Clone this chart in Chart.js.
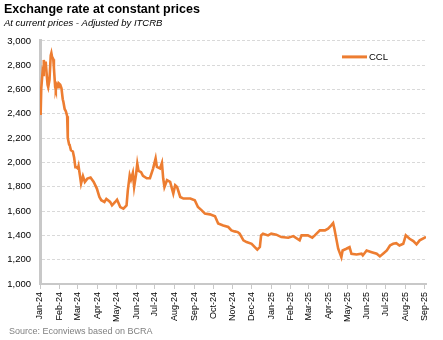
<!DOCTYPE html>
<html>
<head>
<meta charset="utf-8">
<script src="https://cdn.jsdelivr.net/npm/chart.js@4.4.1/dist/chart.umd.min.js"></script>
<style>
  html, body { margin: 0; padding: 0; background: #fff; }
</style>
</head>
<body>
<canvas id="chartCcl" width="443" height="340"></canvas>
<script>
// month labels on the x axis, one per month starting Jan-24
const tickLabels = [
  "Jan-24", "Feb-24", "Mar-24", "Apr-24", "May-24", "Jun-24", "Jul-24",
  "Aug-24", "Sep-24", "Oct-24", "Nov-24", "Dec-24", "Jan-25", "Feb-25",
  "Mar-25", "Apr-25", "May-25", "Jun-25", "Jul-25", "Aug-25", "Sep-25",
];

const dates = [
  "2024-01-02", "2024-01-03", "2024-01-05", "2024-01-06", "2024-01-07",
  "2024-01-09", "2024-01-10", "2024-01-12", "2024-01-13", "2024-01-14",
  "2024-01-16", "2024-01-18", "2024-01-19", "2024-01-20", "2024-01-22",
  "2024-01-23", "2024-01-25", "2024-01-26", "2024-01-28", "2024-01-30",
  "2024-01-31", "2024-02-02", "2024-02-04", "2024-02-06", "2024-02-07",
  "2024-02-09", "2024-02-11", "2024-02-13", "2024-02-14", "2024-02-16",
  "2024-02-17", "2024-02-19", "2024-02-22", "2024-02-24", "2024-02-26",
  "2024-02-28", "2024-03-01", "2024-03-02", "2024-03-04", "2024-03-06",
  "2024-03-09", "2024-03-12", "2024-03-16", "2024-03-21", "2024-03-26",
  "2024-03-31", "2024-04-04", "2024-04-07", "2024-04-12", "2024-04-15",
  "2024-04-21", "2024-04-24", "2024-04-29", "2024-05-02", "2024-05-07",
  "2024-05-12", "2024-05-17", "2024-05-19", "2024-05-22", "2024-05-24",
  "2024-05-27", "2024-05-29", "2024-06-01", "2024-06-03", "2024-06-05",
  "2024-06-09", "2024-06-12", "2024-06-18", "2024-06-23", "2024-06-28",
  "2024-07-02", "2024-07-04", "2024-07-09", "2024-07-12", "2024-07-14",
  "2024-07-16", "2024-07-20", "2024-07-25", "2024-07-30", "2024-08-02",
  "2024-08-05", "2024-08-10", "2024-08-15", "2024-08-26", "2024-09-02",
  "2024-09-07", "2024-09-13", "2024-09-18", "2024-09-26", "2024-10-04",
  "2024-10-09", "2024-10-17", "2024-10-25", "2024-10-30", "2024-11-04",
  "2024-11-09", "2024-11-12", "2024-11-18", "2024-11-23", "2024-12-01",
  "2024-12-06", "2024-12-10", "2024-12-14", "2024-12-16", "2024-12-19",
  "2024-12-27", "2025-01-01", "2025-01-09", "2025-01-17", "2025-01-28",
  "2025-02-05", "2025-02-15", "2025-02-18", "2025-02-28", "2025-03-07",
  "2025-03-11", "2025-03-19", "2025-03-27", "2025-04-01", "2025-04-06",
  "2025-04-09", "2025-04-11", "2025-04-13", "2025-04-17", "2025-04-22",
  "2025-04-24", "2025-04-30", "2025-05-05", "2025-05-08", "2025-05-16",
  "2025-05-24", "2025-05-26", "2025-06-01", "2025-06-09", "2025-06-17",
  "2025-06-22", "2025-06-27", "2025-07-03", "2025-07-08", "2025-07-13",
  "2025-07-18", "2025-07-23", "2025-07-29", "2025-08-02", "2025-08-08",
  "2025-08-14", "2025-08-19", "2025-08-24", "2025-09-01", "2025-09-03",
];

const ccl = [
  2390, 2610, 2740, 2720, 2843,
  2760, 2830, 2700, 2640, 2620,
  2680, 2880, 2900, 2870, 2850,
  2780, 2620, 2600, 2640, 2620,
  2650, 2640, 2610, 2520, 2500,
  2440, 2420, 2380, 2200, 2150,
  2140, 2100, 2090, 2040, 1960,
  1960, 1950, 1970, 1900, 1826,
  1887, 1840, 1867, 1876, 1840,
  1785, 1716, 1689, 1675, 1700,
  1675, 1647, 1675, 1694, 1633,
  1620, 1647, 1771, 1895, 1860,
  1915, 1800, 1900, 1990, 1930,
  1920, 1890, 1870, 1870, 1950,
  2033, 1963, 1950, 1996, 1870,
  1798, 1854, 1840, 1744, 1812,
  1798, 1716, 1703, 1703, 1689,
  1633, 1606, 1579, 1573, 1557,
  1497, 1482, 1469, 1441, 1433,
  1427, 1414, 1359, 1345, 1331,
  1304, 1282, 1304, 1400, 1414,
  1400, 1414, 1406, 1386, 1381,
  1394, 1359, 1400, 1400, 1381,
  1400, 1441, 1441, 1455, 1482,
  1501, 1455, 1400, 1290, 1221,
  1276, 1290, 1304, 1249, 1243,
  1249, 1235, 1276, 1262, 1249,
  1227, 1249, 1276, 1317, 1331,
  1336, 1317, 1331, 1400, 1372,
  1353, 1326, 1359, 1381, 1389,
];

const sourceText = "Source: Econviews based on BCRA";

// days since 1 Jan 2024, used as the x value
const DAY = 86400000;
const BASE = Date.UTC(2024, 0, 1);
const dayIndex = (ms) => Math.round((ms - BASE) / DAY);
const toDay = (s) => {
  const [y, m, d] = s.split("-").map(Number);
  return dayIndex(Date.UTC(y, m - 1, d));
};
const monthTicks = tickLabels.map((_, i) => dayIndex(Date.UTC(2024, i, 1)));

const ORANGE = "#ED7D31";

// legend and source line drawn on the canvas
const extras = {
  id: "extras",
  afterDraw(chart) {
    const { ctx, chartArea } = chart;
    ctx.save();
    const ly = chartArea.top + 16;
    const lx = chartArea.right - 84;
    ctx.strokeStyle = ORANGE;
    ctx.lineWidth = 3;
    ctx.beginPath();
    ctx.moveTo(lx, ly);
    ctx.lineTo(lx + 25, ly);
    ctx.stroke();
    ctx.fillStyle = "#000";
    ctx.font = "9.5px 'Liberation Sans'";
    ctx.textBaseline = "middle";
    ctx.fillText("CCL", lx + 27, ly);

    ctx.fillStyle = "#808080";
    ctx.font = "9px 'Liberation Sans'";
    ctx.textBaseline = "alphabetic";
    ctx.fillText(sourceText, 9, chart.height - 6);
    ctx.restore();
  },
};

const ctx = document.getElementById("chartCcl");
new Chart(ctx.getContext("2d"), {
  type: "line",
  data: {
    datasets: [
      {
        label: "CCL",
        data: dates.map((d, i) => ({ x: toDay(d), y: ccl[i] })),
        borderColor: ORANGE,
        borderWidth: 2.6,
        pointRadius: 0,
        tension: 0,
      },
    ],
  },
  options: {
    responsive: false,
    animation: false,
    layout: { padding: { left: 4, right: 17, bottom: 18, top: 0 } },
    plugins: {
      legend: { display: false },
      tooltip: { enabled: false },
      title: {
        display: true,
        text: "Exchange rate at constant prices",
        align: "start",
        color: "#000",
        font: { family: "Liberation Sans", size: 12.5, weight: "bold" },
        padding: { top: 2, bottom: 1 },
      },
      subtitle: {
        display: true,
        text: "At current prices - Adjusted by ITCRB",
        align: "start",
        color: "#000",
        font: { family: "Liberation Sans", size: 9.5, style: "italic" },
        padding: { top: 0, bottom: 11.5 },
      },
    },
    scales: {
      x: {
        type: "linear",
        min: 0,
        max: 611,
        afterBuildTicks: (scale) => {
          scale.ticks = monthTicks.map((v) => ({ value: v }));
        },
        afterFit: (scale) => {
          scale.height = 38;
        },
        ticks: {
          autoSkip: false,
          maxRotation: 90,
          minRotation: 90,
          padding: 3,
          color: "#000",
          font: { family: "Liberation Sans", size: 9 },
          callback: (v, i) => tickLabels[i],
        },
        grid: {
          drawOnChartArea: false,
          drawTicks: true,
          tickLength: 5,
          color: "#c8c8c8",
        },
        border: { color: "#c8c8c8", width: 2 },
      },
      y: {
        min: 1000,
        max: 3000,
        afterFit: (scale) => {
          scale.width = 36;
        },
        ticks: {
          stepSize: 200,
          padding: 9,
          color: "#000",
          font: { family: "Liberation Sans", size: 9.5 },
          callback: (v) => v.toLocaleString("en-US"),
        },
        grid: { color: "#d9d9d9", drawTicks: false },
        border: { color: "#c8c8c8", width: 3, dash: [3, 2] },
      },
    },
  },
  plugins: [extras],
});
</script>
</body>
</html>
